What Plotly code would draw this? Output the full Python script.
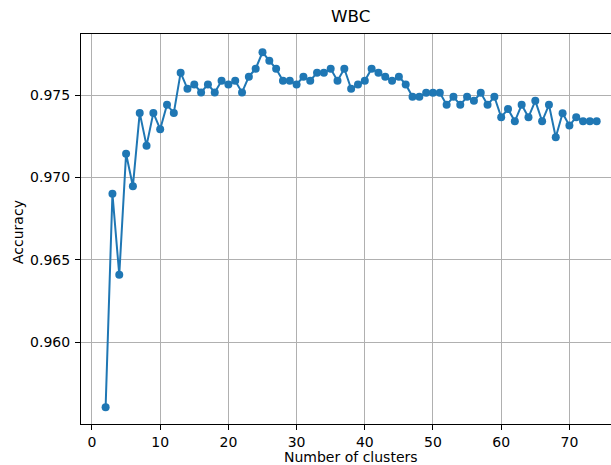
import plotly.graph_objects as go

clusters = list(range(2, 75))
accuracy = [
    0.95605, 0.96901, 0.96409, 0.97144, 0.96947, 0.97392, 0.97193, 0.97392, 0.97293, 0.97441,  # 2-11
    0.97392, 0.97636, 0.97538, 0.97565, 0.97516, 0.97565, 0.97516, 0.97587, 0.97565, 0.97587,  # 12-21
    0.97516, 0.97612, 0.97660, 0.97760, 0.97709, 0.97660, 0.97587, 0.97587, 0.97565, 0.97612,  # 22-31
    0.97587, 0.97636, 0.97636, 0.97660, 0.97587, 0.97660, 0.97538, 0.97565, 0.97587, 0.97660,  # 32-41
    0.97636, 0.97612, 0.97587, 0.97612, 0.97565, 0.97490, 0.97490, 0.97514, 0.97514, 0.97514,  # 42-51
    0.97441, 0.97490, 0.97441, 0.97490, 0.97465, 0.97514, 0.97441, 0.97490, 0.97366, 0.97415,  # 52-61
    0.97341, 0.97441, 0.97366, 0.97465, 0.97341, 0.97441, 0.97244, 0.97390, 0.97315, 0.97366,  # 62-71
    0.97341, 0.97341, 0.97341,                                                                  # 72-74
]
x_ticks = [0, 10, 20, 30, 40, 50, 60, 70]
y_ticks = [0.960, 0.965, 0.970, 0.975]

W, H = 611, 465
ML, MT, MB = 81, 34, 41
font = "DejaVu Sans"

fig = go.Figure()
fig.add_trace(go.Scatter(
    x=clusters, y=accuracy, mode="lines+markers",
    line=dict(color="#1f77b4", width=2),
    marker=dict(color="#1f77b4", size=8),
    showlegend=False, cliponaxis=False,
))

fig.update_layout(
    width=W, height=H,
    margin=dict(l=ML, r=0, t=MT, b=MB, pad=0),
    paper_bgcolor="white", plot_bgcolor="white",
    font=dict(family=font, size=14, color="black"),
    xaxis=dict(
        range=[-1.61, 76.1], tickvals=x_ticks, ticktext=[str(v) for v in x_ticks],
        showgrid=True, gridcolor="#b0b0b0", gridwidth=1,
        showline=True, linecolor="black", linewidth=1, mirror=True,
        ticks="outside", ticklen=5, tickwidth=1, tickcolor="black",
        zeroline=False, ticklabelstandoff=0,
    ),
    yaxis=dict(
        range=[0.95503, 0.97871], tickvals=y_ticks, ticktext=["%.3f" % v for v in y_ticks],
        showgrid=True, gridcolor="#b0b0b0", gridwidth=1,
        showline=True, linecolor="black", linewidth=1, mirror=False,
        ticks="outside", ticklen=5, tickwidth=1, tickcolor="black",
        zeroline=False, ticklabelstandoff=2,
    ),
    annotations=[
        dict(text="WBC", xref="paper", yref="paper", x=(350.5 - ML) / (W - ML), y=1 + 18 / (H - MT - MB),
             showarrow=False, xanchor="center", yanchor="middle", font=dict(size=16.7, family=font, color="black")),
        dict(text="Number of clusters", xref="paper", yref="paper", x=(350.5 - ML) / (W - ML),
             y=-(457.5 - (H - MB)) / (H - MT - MB),
             showarrow=False, xanchor="center", yanchor="middle", font=dict(size=14, family=font, color="black")),
        dict(text="Accuracy", xref="paper", yref="paper", x=-(ML - 18) / (W - ML),
             y=((H - MB) - 232) / (H - MT - MB), textangle=-90,
             showarrow=False, xanchor="center", yanchor="middle", font=dict(size=14, family=font, color="black")),
    ],
)

fig.write_html("out.html")
